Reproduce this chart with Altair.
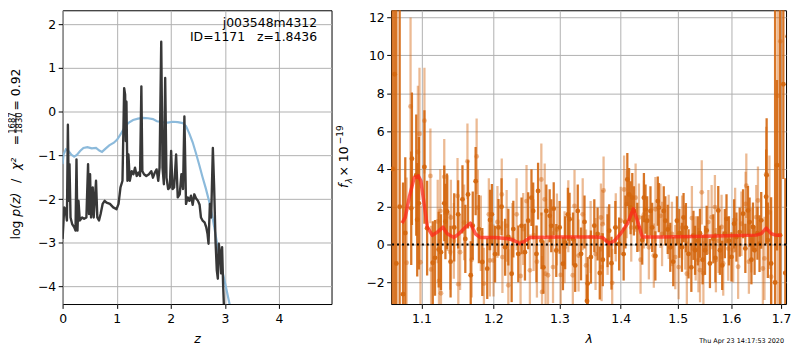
import altair as alt
import pandas as pd

FONT = "DejaVu Sans"

# ---------------- left panel: log p(z) ----------------
z_pdf = [0.000, 0.031, 0.055, 0.080, 0.098, 0.116, 0.128, 0.147, 0.177, 0.214,
         0.239, 0.257, 0.275, 0.294, 0.318, 0.361, 0.398, 0.440, 0.471, 0.489,
         0.508, 0.526, 0.557, 0.575, 0.618, 0.642, 0.673, 0.703, 0.740, 0.777,
         0.813, 0.875, 0.936, 0.997, 1.034, 1.070, 1.107, 1.138, 1.156, 1.168,
         1.180, 1.199, 1.217, 1.242, 1.278, 1.309, 1.339, 1.370, 1.401, 1.431,
         1.456, 1.474, 1.505, 1.547, 1.596, 1.639, 1.670, 1.706, 1.737, 1.768,
         1.792, 1.823, 1.847, 1.872, 1.896, 1.920, 1.951, 1.982, 2.006, 2.031,
         2.061, 2.098, 2.128, 2.165, 2.196, 2.226, 2.251, 2.281, 2.312, 2.343,
         2.373, 2.404, 2.434, 2.465, 2.502, 2.532, 2.557, 2.587, 2.624, 2.654,
         2.679, 2.697, 2.722, 2.746, 2.777, 2.801, 2.826, 2.850, 2.869, 2.887,
         2.911, 2.930, 2.948, 2.966, 2.991]
logp_pdf = [-2.91, -2.19, -2.23, -2.49, -0.30, -2.04, -1.20, -2.42, -2.57, -2.64,
            -2.72, -1.09, -2.72, -2.04, -2.49, -2.42, -2.45, -2.42, -1.20, -2.34,
            -1.43, -2.42, -1.73, -2.42, -1.58, -2.42, -2.49, -2.34, -2.11, -2.04,
            -2.08, -2.11, -2.19, -2.23, -2.11, -1.73, -1.58, 0.54, 0.39, -0.67,
            0.23, -1.58, -0.98, -1.58, -1.36, -1.43, -1.28, -1.47, -1.39, -1.47,
            0.58, -1.36, -1.43, -1.47, -1.43, -1.36, -1.51, -1.39, -1.32, -1.58,
            -1.28, 1.60, -1.28, -1.66, 0.77, -1.51, -1.77, -1.73, -0.90, -1.77,
            -1.73, -0.98, -1.96, -1.89, -1.43, -1.77, -0.11, -2.11, -1.96, -2.04,
            -1.92, -2.13, -1.89, -1.98, -2.04, -2.13, -2.42, -2.49, -2.53, -2.64,
            -2.80, -3.02, -2.11, -2.42, -0.83, -1.73, -2.95, -3.63, -3.82, -3.02,
            -3.25, -3.70, -3.10, -3.93, -4.77]

z_prior = [0.000, 0.018, 0.061, 0.110, 0.159, 0.214, 0.263, 0.324, 0.385, 0.459,
           0.538, 0.618, 0.679, 0.728, 0.789, 0.862, 0.948, 1.009, 1.070, 1.131,
           1.211, 1.303, 1.394, 1.486, 1.578, 1.670, 1.743, 1.853, 1.945, 2.037,
           2.128, 2.220, 2.281, 2.343, 2.404, 2.465, 2.526, 2.587, 2.648, 2.710,
           2.771, 2.832, 2.893, 2.954, 3.015, 3.089]
logp_prior = [-1.20, -0.98, -0.86, -0.90, -0.98, -1.03, -0.99, -0.90, -0.83, -0.81,
              -0.84, -0.83, -0.89, -0.92, -0.85, -0.77, -0.71, -0.64, -0.52, -0.39,
              -0.26, -0.19, -0.16, -0.14, -0.15, -0.17, -0.22, -0.24, -0.25, -0.23,
              -0.24, -0.26, -0.33, -0.50, -0.70, -0.95, -1.22, -1.50, -1.76, -2.06,
              -2.42, -2.85, -3.29, -3.65, -3.99, -4.42]

left_xticks = [0, 1, 2, 3, 4]
left_yticks = [-4, -3, -2, -1, 0, 1, 2]

# ---------------- right panel: spectrum ----------------
# darker (first) spectrum: wavelength, flux, 1-sigma error
wave_a = [1.0624, 1.0649, 1.0671, 1.0714, 1.0758, 1.0787, 1.0865, 1.0874, 1.0931, 1.0944,
          1.0966, 1.1040, 1.1076, 1.1152, 1.1182, 1.1232, 1.1263, 1.1308, 1.1324, 1.1345,
          1.1445, 1.1560, 1.1638, 1.1676, 1.1746, 1.1792, 1.1841, 1.1912, 1.1953, 1.1979,
          1.2075, 1.2173, 1.2269, 1.2294, 1.2368, 1.2417, 1.2468, 1.2517, 1.2567, 1.2593,
          1.2643, 1.2668, 1.2795, 1.2847, 1.2872, 1.2950, 1.3003, 1.3055, 1.3133, 1.3160,
          1.3291, 1.3344, 1.3441, 1.3452, 1.3505, 1.3614, 1.3779, 1.3807, 1.3845, 1.3974,
          1.4113, 1.4142, 1.4169, 1.4198, 1.4226, 1.4284, 1.4370, 1.4399, 1.4427, 1.4456,
          1.4514, 1.4544, 1.4643, 1.4661, 1.4749, 1.4777, 1.4866, 1.4986, 1.5077, 1.5107,
          1.5198, 1.5289, 1.5319, 1.5504, 1.5535, 1.5597, 1.5661, 1.5755, 1.5786, 1.5881,
          1.5913, 1.6009, 1.6105, 1.6169, 1.6235, 1.6332, 1.6364, 1.6431, 1.6463, 1.6562,
          1.6596, 1.6695, 1.6705, 1.6729, 1.6796, 1.6877, 1.6917, 1.6979, 1.7046, 1.7087,
          1.7136, 1.3215, 1.3700, 1.3910, 1.4050, 1.5410,
          1.1395, 1.1500, 1.1600, 1.1705, 1.2025, 1.2120, 1.2220, 1.2720, 1.2750, 1.2910,
          1.3090, 1.3250, 1.3400, 1.3560, 1.3650, 1.4080, 1.4600, 1.4820, 1.4920, 1.5030,
          1.5150, 1.5250, 1.5370, 1.5460, 1.5700, 1.5830, 1.5960, 1.6060, 1.6280, 1.6400,
          1.6520]
flux_a = [4.00, 9.00, -1.00, 2.00, -2.62, 0.61, 1.92, 4.54, 3.67, 1.31,
          2.18, 4.10, 0.87, -0.96, -0.70, -0.26, -0.40, 2.18, 1.22, 1.75,
          0.91, 2.39, 2.65, -1.62, 3.35, 0.82, -0.92, -1.27, 1.30, 1.60,
          0.91, -0.14, -1.54, 0.82, -0.49, 0.99, -0.40, 1.26, 2.48, 1.78,
          -0.49, 2.83, 1.78, 1.52, 0.99, -0.31, 0.91, -1.01, 1.60, 1.34,
          1.78, -0.49, -2.98, -2.06, -0.66, 0.56, 0.21, 0.73, -0.98, 0.03,
          3.44, 2.65, 1.95, 2.48, 1.78, 0.91, 0.24, 2.48, 1.87, 1.26,
          1.78, 0.91, 2.30, 1.95, 1.78, 1.26, -0.14, 1.26, -0.14, 1.43,
          -0.49, 0.49, -0.30, -0.30, 0.75, -1.00, 0.31, 1.80, -0.30, 0.58,
          1.36, -0.65, 0.40, 0.66, 1.63, 1.80, 1.19, 0.93, -0.30, 0.05,
          1.28, 2.53, 3.67, 0.23, -1.00, -2.00, 4.19, 0.50, 8.47, -1.50,
          11.00, 0.30, -0.80, 0.90, -0.50, 0.60,
          -0.90, 1.60, 0.30, 1.00, -0.50, 2.00, 0.40, 0.20, -1.20, 1.90,
          0.10, -1.10, 1.20, 1.00, -1.50, 1.20, -0.60, 0.80, -0.90, 0.60,
          0.90, -1.20, 0.20, -0.80, -0.70, -1.10, 0.20, 1.10, -0.20, -0.80,
          0.60]
err_a = [30, 30, 30, 25, 5.9, 4.0, 3.0, 3.5, 3.2, 3.0,
         3.5, 3.0, 2.5, 2.2, 2.0, 2.0, 2.0, 2.0, 2.0, 2.0,
         1.8, 1.8, 1.8, 1.8, 1.8, 1.8, 1.8, 1.6, 1.6, 1.6,
         1.5, 1.5, 1.5, 1.5, 1.5, 1.5, 1.5, 1.5, 1.5, 1.5,
         1.5, 1.5, 1.4, 1.4, 1.4, 1.4, 1.4, 1.4, 1.4, 1.4,
         1.4, 1.4, 1.4, 1.4, 1.4, 1.4, 1.4, 1.4, 1.4, 1.4,
         1.4, 1.4, 1.4, 1.3, 1.3, 1.3, 1.3, 1.3, 1.3, 1.3,
         1.3, 1.3, 1.3, 1.3, 1.3, 1.3, 1.3, 1.3, 1.3, 1.3,
         1.3, 1.3, 1.3, 1.3, 1.3, 1.3, 1.3, 1.3, 1.3, 1.3,
         1.3, 1.3, 1.3, 1.3, 1.3, 1.3, 1.3, 1.3, 1.3, 1.5,
         1.5, 2.5, 3.0, 2.0, 3.5, 16, 4.5, 20, 5.0, 5.0,
         7.0, 1.4, 1.4, 1.4, 1.4, 1.3,
         1.9, 1.8, 1.8, 1.8, 1.5, 1.5, 1.5, 1.5, 1.4, 1.4,
         1.4, 1.4, 1.4, 1.4, 1.4, 1.4, 1.3, 1.3, 1.3, 1.3,
         1.3, 1.3, 1.3, 1.3, 1.3, 1.3, 1.3, 1.3, 1.3, 1.3,
         1.4]

# lighter (second) spectrum
wave_b = [1.0804, 1.0856, 1.0953, 1.0974, 1.0987, 1.1040, 1.1120, 1.1129, 1.1219, 1.1236,
          1.1254, 1.1263, 1.1308, 1.1354, 1.1390, 1.1399, 1.1491, 1.1502, 1.1527, 1.1583,
          1.1630, 1.1760, 1.1778, 1.1864, 1.1935, 1.1950, 1.2003, 1.2123, 1.2133, 1.2195,
          1.2220, 1.2343, 1.2402, 1.2442, 1.2492, 1.2543, 1.2718, 1.2729, 1.2770, 1.2783,
          1.2821, 1.2899, 1.3081, 1.3212, 1.3239, 1.3304, 1.3371, 1.3425, 1.3669, 1.3680,
          1.3697, 1.3713, 1.3857, 1.3917, 1.4001, 1.4058, 1.4101, 1.4255, 1.4313, 1.4341,
          1.4486, 1.4573, 1.4601, 1.4689, 1.4719, 1.4837, 1.4896, 1.4956, 1.5017, 1.5137,
          1.5167, 1.5381, 1.5411, 1.5443, 1.5474, 1.5567, 1.5629, 1.5691, 1.5710, 1.5818,
          1.5850, 1.5946, 1.6042, 1.6138, 1.6202, 1.6285, 1.6299, 1.6397, 1.6496, 1.6530,
          1.6629, 1.6661, 1.6695, 1.6762, 1.6796, 1.6932, 1.6985,
          1.1440, 1.1690, 1.1820, 1.2060, 1.2280, 1.2600, 1.2650, 1.2960, 1.3020, 1.3140,
          1.3500, 1.3580, 1.3780, 1.4180, 1.4400, 1.5080, 1.5260, 1.5330, 1.5760, 1.6080,
          1.6350]
flux_b = [-0.96, 7.30, 4.89, 5.85, -0.93, 6.55, 3.63, -1.31, 1.22, -1.92,
          1.78, -2.57, 3.58, 1.66, -0.39, 1.43, 2.57, -2.09, -0.40, 1.17,
          4.40, 4.66, 1.95, -2.06, 1.60, -0.84, -0.84, 2.65, -0.66, 0.99,
          -2.15, 1.60, -1.66, 0.82, 2.30, -1.36, 3.44, -2.50, 2.39, -1.54,
          -1.62, -1.19, -0.14, -1.62, 2.04, -0.58, 1.60, -1.10, 1.43, -1.19,
          1.08, 2.86, -2.02, 0.91, 1.26, 2.91, 2.13, 2.48, 1.43, -0.80,
          -0.14, -0.58, 1.87, 1.52, 0.56, 0.94, 0.56, -0.66, -1.19, 0.38,
          -1.54, -0.82, -1.35, 2.76, -1.52, 1.19, 1.45, 1.98, -0.82, 0.93,
          -1.00, -0.21, -0.30, -1.17, 1.10, 2.15, 3.11, 0.23, 1.45, 2.33,
          -1.26, -0.73, 3.72, 1.71, -1.70, 7.86, 10.74,
          0.20, -0.80, 0.60, 1.20, 0.30, 0.50, -0.90, 0.80, -1.60, 1.50,
          0.40, -0.50, 0.20, 0.90, 1.60, 0.90, 1.40, -0.20, 0.20, 1.30,
          -0.90]
err_b = [4.5, 4.7, 3.5, 3.5, 3.0, 2.8, 2.5, 2.3, 2.2, 2.2,
         2.2, 2.2, 2.0, 2.0, 2.0, 2.0, 2.0, 2.0, 2.0, 2.0,
         2.0, 2.0, 2.0, 1.9, 1.9, 1.9, 1.9, 1.9, 1.9, 1.9,
         1.9, 1.9, 1.9, 1.9, 1.9, 1.9, 1.9, 1.9, 1.9, 1.9,
         1.9, 1.9, 1.9, 1.9, 1.9, 1.9, 1.9, 1.9, 1.8, 1.8,
         1.8, 1.8, 1.8, 1.8, 1.8, 1.8, 1.8, 1.8, 1.8, 1.8,
         1.7, 1.7, 1.7, 1.7, 1.7, 1.7, 1.7, 1.7, 1.7, 1.7,
         1.7, 1.7, 1.7, 1.7, 1.7, 1.7, 1.7, 1.7, 1.7, 1.7,
         1.7, 1.7, 1.7, 1.7, 1.7, 1.7, 1.7, 1.7, 1.7, 1.8,
         2.0, 2.2, 2.5, 3.0, 3.5, 11.0, 14.0,
         2.0, 2.0, 2.0, 1.9, 1.9, 1.9, 1.9, 1.9, 1.9, 1.9,
         1.9, 1.9, 1.8, 1.8, 1.8, 1.7, 1.7, 1.7, 1.7, 1.7,
         1.7]

model_wave = [1.0744, 1.0787, 1.0839, 1.0904, 1.0960, 1.0992, 1.1036, 1.1079, 1.1146, 1.1213,
              1.1290, 1.1349, 1.1440, 1.1509, 1.1602, 1.1672, 1.1742, 1.1813, 1.2027, 1.2221,
              1.2295, 1.2394, 1.2468, 1.2543, 1.3028, 1.3561, 1.3697, 1.3807, 1.3890, 1.4000,
              1.4114, 1.4216, 1.4285, 1.4371, 1.4689, 1.5290, 1.5914, 1.6497, 1.6596, 1.6696,
              1.6797, 1.6899, 1.7001]
model_flux = [1.13, 1.44, 2.50, 3.54, 3.63, 3.37, 2.15, 0.92, 0.49, 0.66,
              0.92, 0.57, 0.37, 0.57, 0.92, 1.13, 0.57, 0.37, 0.37, 0.31,
              0.23, 0.05, 0.19, 0.37, 0.40, 0.40, 0.37, 0.05, 0.19, 0.58,
              1.10, 1.89, 1.27, 0.40, 0.40, 0.43, 0.47, 0.50, 0.58, 0.87,
              0.58, 0.49, 0.49]

right_xticks = [1.1, 1.2, 1.3, 1.4, 1.5, 1.6, 1.7]
right_yticks = [-2, 0, 2, 4, 6, 8, 10, 12]

# ---------------- styling ----------------
W1, W2, H = 271, 398, 296
ORANGE = "#d4670f"


def txt(s, x, y, size=12.5, style="normal", angle=0, align="left",
        baseline="middle", color="black"):
    return alt.Chart(pd.DataFrame({"s": [s]})).mark_text(
        font=FONT, fontSize=size, fontStyle=style, angle=angle, align=align,
        baseline=baseline, color=color
    ).encode(x=alt.value(x), y=alt.value(y), text="s:N")


# ---- left chart ----
xL = alt.X("z:Q", scale=alt.Scale(domain=[0, 4.97], nice=False, zero=False),
           axis=alt.Axis(values=left_xticks, format="d", title="z",
                         titleFontStyle="italic"))
yL = alt.Y("logp:Q", scale=alt.Scale(domain=[-4.40, 2.32], nice=False, zero=False),
           axis=alt.Axis(values=left_yticks, format="d", title=None))

pdf_df = pd.DataFrame({"z": z_pdf, "logp": logp_pdf})
prior_df = pd.DataFrame({"z": z_prior, "logp": logp_prior})

prior_line = alt.Chart(prior_df).mark_line(
    color="#8cbadb", strokeWidth=2.2, clip=True).encode(x=xL, y=yL)
pdf_line = alt.Chart(pdf_df).mark_line(
    color="#383838", strokeWidth=2.4, clip=True, strokeJoin="round").encode(x=xL, y=yL)

ann1 = txt("j003548m4312", 256.5, 17, align="right", baseline="alphabetic")
ann2 = txt("ID=1171\u00a0\u00a0\u00a0z=1.8436", 256.5, 31, align="right",
           baseline="alphabetic")

# rotated y title pieces: log p(z) / chi^2 = 1687/1830 = 0.92
tx = -47
lt1 = txt("log", tx, 231, angle=270)
lt2 = txt("p(z)", tx, 208, angle=270, style="italic")
lt3 = txt("/", tx, 174, angle=270)
lt4 = txt("χ²", tx, 161, angle=270, style="italic")
lt5 = txt("=", tx, 136, angle=270)
num = txt("1687", tx - 3.5, 113.7, size=8.5, angle=270, align="center")
den = txt("1830", tx + 3.5, 113.7, size=8.5, angle=270, align="center")
bar = alt.Chart(pd.DataFrame({"a": [0]})).mark_rule(color="black", strokeWidth=0.8).encode(
    x=alt.value(tx), y=alt.value(103.5), y2=alt.value(123.5))
lt6 = txt("= 0.92", tx, 101, angle=270)

left = alt.layer(prior_line, pdf_line, ann1, ann2, lt1, lt2, lt3, lt4, lt5,
                 num, den, bar, lt6).properties(width=W1, height=H)

# ---- right chart ----
xscale = alt.Scale(type="log", domain=[1.0603, 1.7102], nice=False, zero=False)
yscale = alt.Scale(domain=[-3.14, 12.38], nice=False, zero=False)
xR = alt.X("wave:Q", scale=xscale,
           axis=alt.Axis(values=right_xticks, format=".1f", title="λ",
                         titleFontStyle="italic"))


def yR(field):
    return alt.Y(field, scale=yscale,
                 axis=alt.Axis(values=right_yticks, format="d", title=None))


da = pd.DataFrame({"wave": wave_a, "flux": flux_a, "err": err_a})
da["lo"] = da["flux"] - da["err"]
da["hi"] = da["flux"] + da["err"]
db = pd.DataFrame({"wave": wave_b, "flux": flux_b, "err": err_b})
db["lo"] = db["flux"] - db["err"]
db["hi"] = db["flux"] + db["err"]
dm = pd.DataFrame({"wave": model_wave, "flux": model_flux})

rules_b = alt.Chart(db).mark_rule(color=ORANGE, opacity=0.45, strokeWidth=2.3,
                                  clip=True).encode(x=xR, y=yR("lo:Q"), y2="hi:Q")
pts_b = alt.Chart(db).mark_circle(color=ORANGE, opacity=0.45, size=24,
                                  clip=True).encode(x=xR, y=yR("flux:Q"))
rules_a = alt.Chart(da).mark_rule(color=ORANGE, opacity=0.9, strokeWidth=2.3,
                                  clip=True).encode(x=xR, y=yR("lo:Q"), y2="hi:Q")
pts_a = alt.Chart(da).mark_circle(color=ORANGE, opacity=0.95, size=24,
                                  clip=True).encode(x=xR, y=yR("flux:Q"))
model = alt.Chart(dm).mark_line(color="#ff2418", opacity=0.72, strokeWidth=3.5,
                                clip=True, strokeJoin="round").encode(x=xR, y=yR("flux:Q"))
zero = alt.Chart(pd.DataFrame({"flux": [0]})).mark_rule(
    color="black", strokeDash=[2, 3], strokeWidth=2).encode(y=yR("flux:Q"))

date = txt("Thu Apr 23 14:17:53 2020", 396, 335, size=6.5, align="right",
           baseline="alphabetic")

rt1 = txt("f", -47, 179, angle=270, style="italic")
rt2 = txt("λ", -42, 174.4, size=9, angle=270, style="italic")
rt3 = txt("× 10", -47, 167.5, angle=270)
rt4 = txt("−19", -51.5, 135, size=9, angle=270)

right = alt.layer(rules_b, pts_b, rules_a, pts_a, model, zero, date,
                  rt1, rt2, rt3, rt4).properties(width=W2, height=H)

chart = alt.hconcat(left, right, spacing=3).properties(
    padding={"left": 0, "top": 0, "right": 0, "bottom": 0}
).configure_view(
    stroke="black", strokeWidth=1
).configure_axis(
    grid=True, gridColor="#b0b0b0", gridWidth=1, domain=False,
    tickColor="black", tickSize=4.4, tickWidth=1,
    labelFont=FONT, labelFontSize=12.5, labelColor="black",
    labelFlush=False, labelOverlap=False,
    titleFont=FONT, titleFontSize=12.5, titleColor="black",
    titleFontWeight="normal", zindex=1
).configure_axisX(
    labelPadding=4, titlePadding=8
).configure_axisY(
    labelPadding=2.5
)

chart.save("out.html", embed_options={"renderer": "svg", "actions": False})
